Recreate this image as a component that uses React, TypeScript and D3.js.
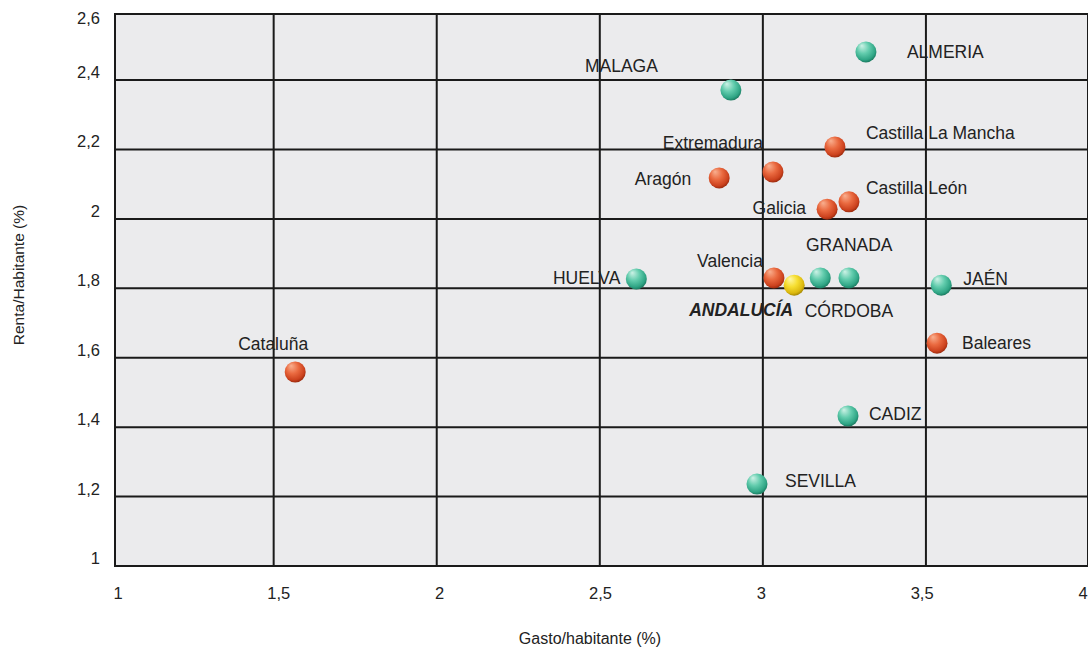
import React from "react";
import * as d3 from "d3";

const names = ["ALMERIA","MALAGA","Castilla La Mancha","Extremadura","Aragón","Castilla León","Galicia","Valencia","ANDALUCÍA","GRANADA","CÓRDOBA","HUELVA","JAÉN","Cataluña","Baleares","CADIZ","SEVILLA"];
const gasto = [3.316,2.902,3.221,3.031,2.866,3.264,3.197,3.034,3.096,3.176,3.264,2.612,3.547,1.566,3.534,3.261,2.982];
const renta = [2.481,2.371,2.207,2.135,2.118,2.049,2.028,1.830,1.809,1.830,1.830,1.827,1.809,1.559,1.642,1.432,1.236];
const kind = ["prov","prov","ccaa","ccaa","ccaa","ccaa","ccaa","ccaa","anda","prov","prov","prov","prov","ccaa","ccaa","prov","prov"];
const xTicks = [1,1.5,2,2.5,3,3.5,4];
const yTicks = [1,1.2,1.4,1.6,1.8,2,2.2,2.4,2.6];

// label placement (dx, dy from point, anchor)
const labelLayout: Record<string,[number,number,string]> = {
  "ALMERIA":[41,0,"start"],
  "MALAGA":[-73,-24,"end"],
  "Castilla La Mancha":[31,-14,"start"],
  "Extremadura":[-10,-29,"end"],
  "Aragón":[-28,1,"end"],
  "Castilla León":[17,-14,"start"],
  "Galicia":[-21,-1,"end"],
  "Valencia":[-11,-17,"end"],
  "ANDALUCÍA":[-1,25,"end"],
  "GRANADA":[29,-33,"middle"],
  "CÓRDOBA":[0,33,"middle"],
  "HUELVA":[-16,-1,"end"],
  "JAÉN":[22,-6,"start"],
  "Cataluña":[-22,-28,"middle"],
  "Baleares":[25,0,"start"],
  "CADIZ":[21,-2,"start"],
  "SEVILLA":[28,-3,"start"],
};

const fmt = (v: number) => String(v).replace(".", ",");

export default function App() {
  const W = 1088, H = 647;
  const x = d3.scaleLinear().domain([1, 4]).range([110.6, 1089]);
  const y = d3.scaleLinear().domain([1, 2.6]).range([566, 10.6]);
  const xLab = d3.scaleLinear().domain([1, 4]).range([118, 1083]);
  const left = 115, top = 14, right = 1088, bottom = 566;
  const font = "'Liberation Sans', Arial, Helvetica, sans-serif";
  const grads: Record<string,[string,string,string,string]> = {
    ccaa: ["#f9b090", "#ea6a40", "#cc421e", "#8a2208"],
    prov: ["#cdf2e6", "#62ccad", "#2fa585", "#126a52"],
    anda: ["#fff8a8", "#f6de30", "#dbb80e", "#8e7400"],
  };
  return (
    <svg width={W} height={H} style={{ position: "absolute", left: 0, top: 0 }} fontFamily={font}>
      <defs>
        {Object.entries(grads).map(([k, c]) => (
          <radialGradient key={k} id={"g-" + k} cx="0.45" cy="0.4" r="0.65" fx="0.3" fy="0.2">
            <stop offset="0" stopColor={c[0]} />
            <stop offset="0.45" stopColor={c[1]} />
            <stop offset="0.8" stopColor={c[2]} />
            <stop offset="1" stopColor={c[3]} />
          </radialGradient>
        ))}
        <clipPath id="plotclip">
          <rect x={left} y={top} width={right - left} height={bottom - top} />
        </clipPath>
      </defs>
      <rect x={left} y={top} width={right - left} height={bottom - top} fill="#ebebed" />
      <g clipPath="url(#plotclip)">
        {xTicks.map((t) => (
          <line key={"x" + t} x1={x(t)} x2={x(t)} y1={top} y2={bottom} stroke="#1a1a1a" strokeWidth={2} />
        ))}
        {yTicks.map((t) => (
          <line key={"y" + t} y1={y(t)} y2={y(t)} x1={left} x2={right} stroke="#1a1a1a" strokeWidth={2} />
        ))}
      </g>
      <rect x={left} y={top} width={right - left} height={bottom - top} fill="none" stroke="#1a1a1a" strokeWidth={2} />
      {yTicks.map((t) => (
        <text key={"yl" + t} x={100} y={Math.max(y(t) - 8, 18)} textAnchor="end" dominantBaseline="central" fontSize={16.5} fill="#222">
          {fmt(t)}
        </text>
      ))}
      {xTicks.map((t) => (
        <text key={"xl" + t} x={xLab(t)} y={593} textAnchor="middle" dominantBaseline="central" fontSize={16.5} fill="#222">
          {fmt(t)}
        </text>
      ))}
      <text transform={`translate(18,${275}) rotate(-90)`} textAnchor="middle" dominantBaseline="central" fontSize={15.5} fill="#222">
        Renta/Habitante (%)
      </text>
      <text x={590} y={638} textAnchor="middle" dominantBaseline="central" fontSize={16} fill="#222">
        Gasto/habitante (%)
      </text>
      {names.map((n, i) => {
        const cx = x(gasto[i]), cy = y(renta[i]);
        return (
          <g key={n}>
            <circle cx={cx} cy={cy} r={10.5} fill={`url(#g-${kind[i]})`} />
          </g>
        );
      })}
      {names.map((n, i) => {
        const cx = x(gasto[i]), cy = y(renta[i]);
        const [dx, dy, anchor] = labelLayout[n];
        const bold = kind[i] === "anda";
        return (
          <text key={"t" + n} x={cx + dx} y={cy + dy} textAnchor={anchor as any} dominantBaseline="central"
            fontSize={17.5} fill="#222" fontWeight={bold ? "bold" : "normal"} fontStyle={bold ? "italic" : "normal"}>
            {n}
          </text>
        );
      })}
    </svg>
  );
}
